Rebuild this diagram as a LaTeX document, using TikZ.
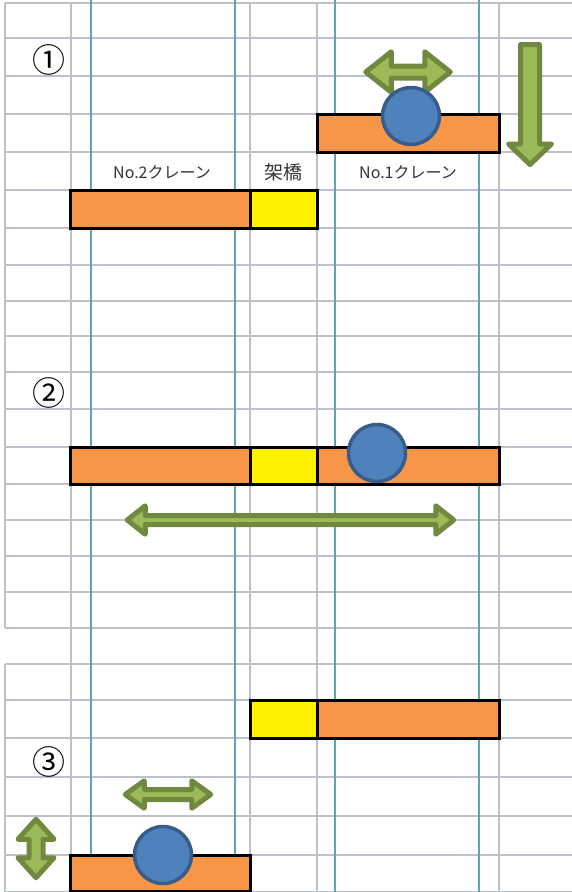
\documentclass[tikz,border=0pt]{standalone}
\usepackage{fontspec}
\newfontfamily\jpfont{Noto Sans CJK JP}
\definecolor{gridgray}{RGB}{188,192,202}
\definecolor{railteal}{RGB}{96,160,176}
\definecolor{craneorange}{HTML}{F79646}
\definecolor{hookfill}{HTML}{4F81BD}
\definecolor{hookline}{HTML}{385D8A}
\definecolor{movefill}{HTML}{9BBB59}
\definecolor{moveline}{HTML}{71893F}
\tikzset{
  gridline/.style={gridgray,line width=2pt},
  railline/.style={railteal,line width=1.8pt},
  crane/.style={draw=black,fill=craneorange,line width=3pt},
  bridge/.style={draw=black,fill=yellow,line width=3pt},
  hook/.style={draw=hookline,fill=hookfill,line width=3.5pt},
  blockarrow/.style={draw=moveline,fill=movefill,line width=5pt,line join=round},
  label/.style={font=\jpfont\fontsize{16}{18}\selectfont,text=black!80},
  stepnum/.style={font=\jpfont\fontsize{33}{35}\selectfont,text=black}
}
\begin{document}
\begin{tikzpicture}[x=1pt,y=-1pt]

  % double block arrow: centre, half length, head half width, shaft half width, head length
  \def\dblarrow(#1,#2)#3#4#5#6{%
    \draw[blockarrow,shift={(#1,#2)}] (-#3,0) -- (-#3+#6,#4) -- (-#3+#6,#5) -- (#3-#6,#5) -- (#3-#6,#4)
      -- (#3,0) -- (#3-#6,-#4) -- (#3-#6,-#5) -- (-#3+#6,-#5) -- (-#3+#6,-#4) -- cycle;}
  \def\vdblarrow(#1,#2)#3#4#5#6{%
    \draw[blockarrow,shift={(#1,#2)}] (0,-#3) -- (#4,-#3+#6) -- (#5,-#3+#6) -- (#5,#3-#6) -- (#4,#3-#6)
      -- (0,#3) -- (-#4,#3-#6) -- (-#5,#3-#6) -- (-#5,-#3+#6) -- (-#4,-#3+#6) -- cycle;}

  \useasboundingbox (0,0) rectangle (572,892);

  % sheet grid
  \foreach \y in {2.7,38,76,114,152,190,228,265,301,336,372,409,447,484,520,556,592,628,664,700,738,777,816,855,892}
    \draw[gridline] (5,\y) -- (572,\y);
  \draw[gridline] (5,2.7) -- (5,628);
  \draw[gridline] (5,664) -- (5,892);
  \foreach \x in {70.5,250,317,499}
    \draw[gridline] (\x,2.7) -- (\x,892);
  \foreach \x in {91,235,335,479}
    \draw[railline] (\x,0) -- (\x,892);

  % (1)
  \node[stepnum] (num1) at (49,60) {①};
  \draw[crane] (317,114) rectangle (499,152);
  \draw[crane] (70.5,190) rectangle (250,228);
  \draw[bridge] (250,190) rectangle (317,228);
  \node[label] (lblno2) at (162,172) {No.2クレーン};
  \node[label,font=\jpfont\fontsize{19}{21}\selectfont] (lblbridge) at (283,172) {架橋};
  \node[label] (lblno1) at (408,172) {No.1クレーン};
  \dblarrow(408,72){42.25}{20.25}{6}{25.5}
  \draw[hook] (411,116) circle (28.5);
  \draw[blockarrow] (520.5,44.5) -- (539.5,44.5) -- (539.5,144) -- (551.5,144) -- (530,164.5)
    -- (508.5,144) -- (520.5,144) -- cycle;

  % (2)
  \node[stepnum] (num2) at (49,393) {②};
  \draw[crane] (70.5,447) rectangle (250,484);
  \draw[bridge] (250,447) rectangle (317,484);
  \draw[crane] (317,447) rectangle (499,484);
  \draw[hook] (377,453) circle (28.5);
  \dblarrow(290.5,520){163.25}{14.25}{4.5}{18}

  % (3)
  \draw[bridge] (250,700) rectangle (317,738);
  \draw[crane] (317,700) rectangle (499,738);
  \node[stepnum] (num3) at (49,762) {③};
  \dblarrow(168,794.5){42.75}{13.75}{5}{19}
  \vdblarrow(36,848.5){29.25}{18}{7}{20}
  \draw[crane] (70.5,855) rectangle (250,891);
  \draw[hook] (163,855) circle (28.5);

\end{tikzpicture}
\end{document}
